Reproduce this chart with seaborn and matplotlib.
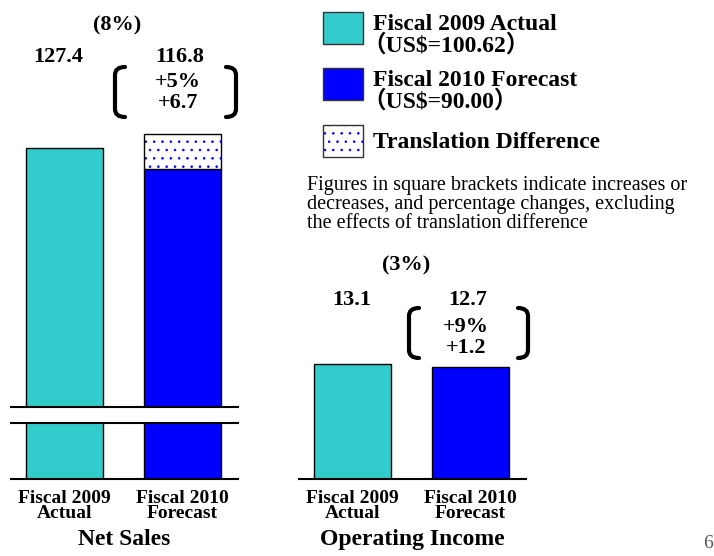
import matplotlib
matplotlib.use('Agg')
import matplotlib.pyplot as plt
import matplotlib.patches as mpatches
from matplotlib.path import Path
from matplotlib.transforms import blended_transform_factory
import seaborn as sns

# chart values
categories = ['Fiscal 2009\nActual', 'Fiscal 2010\nForecast']
net_sales = [127.4, 116.8]
net_translation = 17.3          # forecast at last year's rate minus forecast
net_change = '(8%)'
net_excl = ['+5%', '+6.7']
op_income = [13.1, 12.7]
op_change = '(3%)'
op_excl = ['+9%', '+1.2']
legend_labels = ['Fiscal 2009 Actual\n（US$=100.62）',
                 'Fiscal 2010 Forecast\n（US$=90.00）',
                 'Translation Difference']
note_lines = ['Figures in square brackets indicate increases or',
              'decreases, and percentage changes, excluding',
              'the effects of translation difference']
titles = ['Net Sales', 'Operating Income']

CYAN = '#33CCCC'
BLUE = '#0000FF'

sns.set_style('white')
plt.rcParams['font.family'] = ['Liberation Serif', 'Noto Sans CJK JP', 'DejaVu Sans']
plt.rcParams['hatch.linewidth'] = 0.6
plt.rcParams['text.color'] = 'black'
plt.rcParams['axes.labelcolor'] = 'black'
plt.rcParams['xtick.color'] = 'black'

W, H = 714, 556
fig = plt.figure(figsize=(W / 100, H / 100), dpi=100)


def fx(px):
    return px / W


def fy(py):
    return 1 - py / H


def axes_px(x0, y0, x1, y1):
    return fig.add_axes([fx(x0), fy(y1), (x1 - x0) / W, (y1 - y0) / H])


ax_top = axes_px(11, 20, 238, 407)
ax_bot = axes_px(11, 423, 238, 479)
ax_op = axes_px(299, 215, 526, 479)

bar_kw = dict(hue=categories, palette=[CYAN, BLUE], legend=False, width=0.65,
              edgecolor='black', linewidth=1, saturation=1)
for ax in (ax_top, ax_bot):
    sns.barplot(x=categories, y=net_sales, ax=ax, **bar_kw)
sns.barplot(x=categories, y=op_income, ax=ax_op, **bar_kw)

# translation difference stacked on top of the forecast bar
ax_top.bar(1, net_translation, bottom=net_sales[1], width=0.65, color='white',
           edgecolor=BLUE, hatch='..', linewidth=0)
ax_top.bar(1, net_translation, bottom=net_sales[1], width=0.65, fill=False,
           edgecolor='black', linewidth=1)

ax_top.set_ylim(0, 190)
ax_bot.set_ylim(0, 1)
ax_op.set_ylim(0, 30)

for ax in (ax_top, ax_bot, ax_op):
    ax.set_xlim(-0.45, 1.47)
    ax.set_facecolor('none')
    ax.set_yticks([])
    ax.set_ylabel('')
    for s in ax.spines.values():
        s.set_visible(False)
    ax.spines['bottom'].set_visible(True)
    ax.spines['bottom'].set_linewidth(1.5)
    ax.spines['bottom'].set_color('black')
ax_bot.spines['top'].set_visible(True)
ax_bot.spines['top'].set_linewidth(1.5)
ax_bot.spines['top'].set_color('black')
ax_top.set_xticks([])

for ax, title in ((ax_bot, titles[0]), (ax_op, titles[1])):
    ax.tick_params(axis='x', length=0, pad=8, labelsize=14, labelcolor='black')
    for lbl in ax.get_xticklabels():
        lbl.set_fontweight('bold')
        lbl.set_linespacing(0.85)
    ax.set_xlabel(title, fontsize=17, fontweight='bold', labelpad=5, color='black')

bold = dict(fontsize=16, fontweight='bold', ha='center', va='center')

# value labels for net sales
t = blended_transform_factory(ax_top.transData, fig.transFigure)
fig.text(0.45, fy(25), net_change, transform=t, **bold)
fig.text(-0.05, fy(57), f'{net_sales[0]:.1f}', transform=t, **bold)
fig.text(0.98, fy(57), f'{net_sales[1]:.1f}', transform=t, **bold)
fig.text(0.96, fy(82), net_excl[0], transform=t, **bold)
fig.text(0.96, fy(103), net_excl[1], transform=t, **bold)

# value labels for operating income
t = blended_transform_factory(ax_op.transData, fig.transFigure)
fig.text(0.46, fy(265), op_change, transform=t, **bold)
fig.text(0.0, fy(300), f'{op_income[0]:.1f}', transform=t, **bold)
fig.text(0.98, fy(300), f'{op_income[1]:.1f}', transform=t, **bold)
fig.text(0.96, fy(327), op_excl[0], transform=t, **bold)
fig.text(0.96, fy(348), op_excl[1], transform=t, **bold)


def bracket(x, top, bottom, left=True, w=10, r=8):
    d = 1 if left else -1
    pts = [(x + d * w, top), (x, top), (x, top + r), (x, bottom - r),
           (x, bottom), (x + d * w, bottom)]
    codes = [Path.MOVETO, Path.CURVE3, Path.CURVE3, Path.LINETO,
             Path.CURVE3, Path.CURVE3]
    pts = [(fx(a), fy(b)) for a, b in pts]
    fig.add_artist(mpatches.PathPatch(Path(pts, codes), fill=False, lw=3,
                                      edgecolor='black', capstyle='round',
                                      transform=fig.transFigure))


bracket(115, 67, 117, left=True)
bracket(236, 67, 117, left=False)
bracket(409, 308, 358, left=True)
bracket(528, 308, 358, left=False)

# legend
swatches = [dict(facecolor=CYAN), dict(facecolor=BLUE),
            dict(facecolor='white', hatch='..')]
for i, (sw, label) in enumerate(zip(swatches, legend_labels)):
    top = [12, 68, 125][i]
    if 'hatch' in sw:
        fig.add_artist(mpatches.Rectangle((fx(323), fy(top + 32)), 40 / W, 32 / H,
                                          facecolor='white', edgecolor=BLUE, hatch='..',
                                          linewidth=0, transform=fig.transFigure))
        fig.add_artist(mpatches.Rectangle((fx(323), fy(top + 32)), 40 / W, 32 / H,
                                          fill=False, edgecolor='#333333', linewidth=1,
                                          transform=fig.transFigure))
    else:
        fig.add_artist(mpatches.Rectangle((fx(323), fy(top + 32)), 40 / W, 32 / H,
                                          edgecolor='#333333', linewidth=1,
                                          transform=fig.transFigure, **sw))
    lines = label.split('\n')
    if len(lines) == 1:
        fig.text(fx(373), fy(top + 18), lines[0], fontsize=17, fontweight='bold',
                 va='center', ha='left')
    else:
        fig.text(fx(373), fy(top + 13), lines[0], fontsize=17, fontweight='bold',
                 va='center', ha='left')
        fig.text(fx(362), fy(top + 33), lines[1], fontsize=17, fontweight='bold',
                 va='center', ha='left')

for i, line in enumerate(note_lines):
    fig.text(fx(307), fy(186 + 19 * i), line, fontsize=14.5, va='center', ha='left')

fig.text(fx(703), fy(543), '6', fontsize=14, color='#555555', va='center', ha='left')

fig.savefig('out.png', dpi=100)
